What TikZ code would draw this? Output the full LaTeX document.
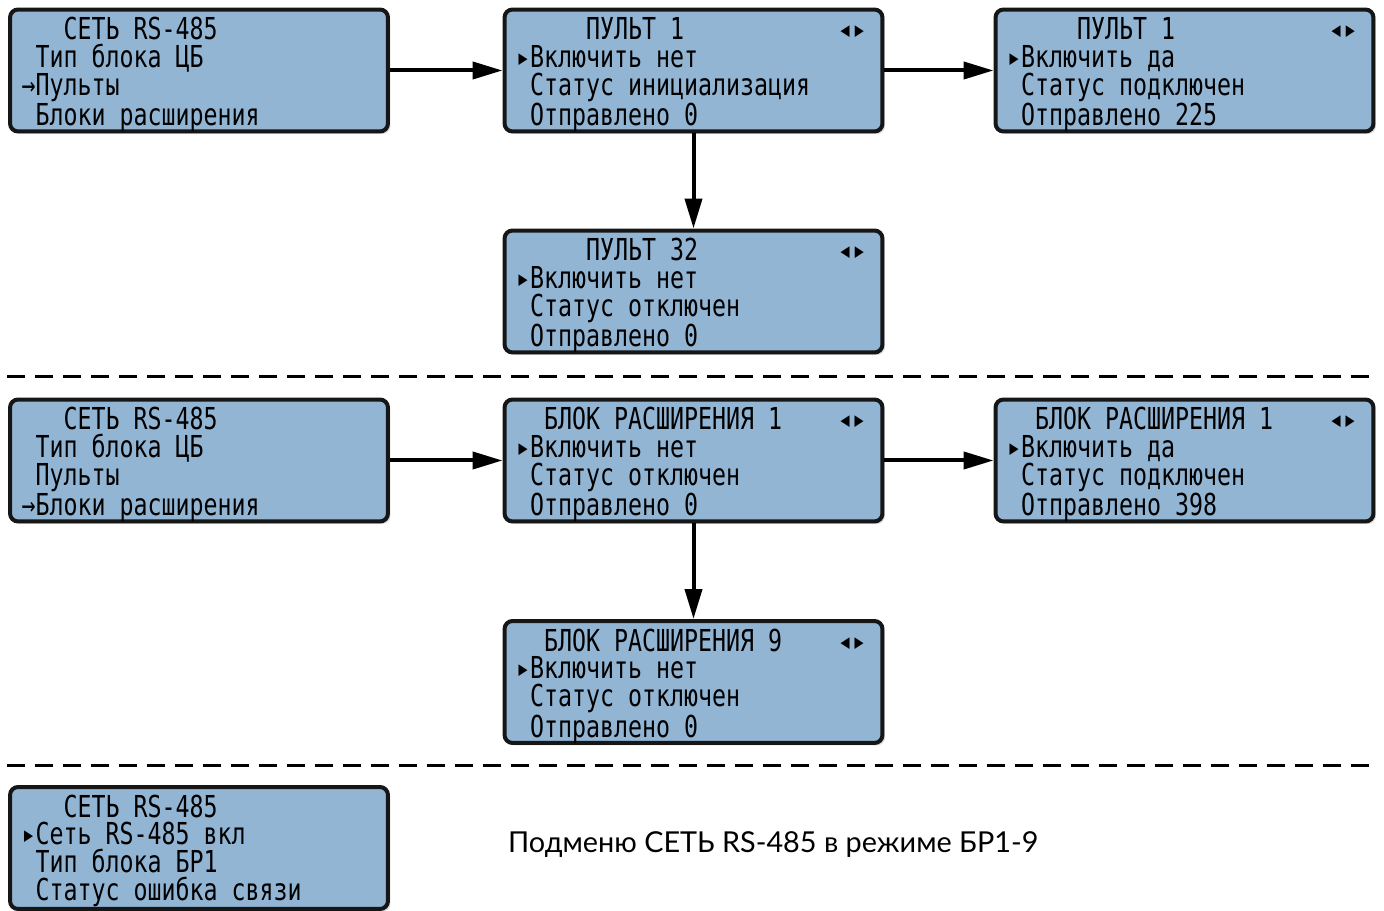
\documentclass[tikz,border=0pt]{standalone}
\usepackage{fontspec}
\setmainfont{Lato}
\newfontfamily\lcdfont[FakeStretch=0.77]{DejaVu Sans Mono}
\usetikzlibrary{arrows.meta,shadows}
\definecolor{lcdblue}{RGB}{146,181,212}
\definecolor{lcdframe}{RGB}{22,22,22}
% one LCD cell = one glyph of the mono font
\newlength{\lcdcell}
\newcommand{\lcdcells}{\lcdfont\fontsize{17.2}{15.93}\selectfont\settowidth{\lcdcell}{0}}
\newcommand{\lgap}[1]{\hspace*{#1\lcdcell}}

\begin{document}
\begin{tikzpicture}[x=0.02cm,y=-0.02cm,
    lcd/.style={rectangle,rounded corners=0.16cm,draw=lcdframe,line width=0.08cm,fill=lcdblue,
      minimum width=7.56cm,minimum height=2.44cm,text width=7.1cm,align=left,inner xsep=0.23cm,
      text height=0.44cm,text depth=1.68cm,font=\lcdcells,
      drop shadow={opacity=0.3,shadow xshift=0.05cm,shadow yshift=-0.05cm}},
    link/.style={-{Triangle[length=0.6cm,width=0.34cm]},line width=0.08cm},
    sep/.style={line width=0.06cm,dash pattern=on 0.36cm off 0.2cm}]
  \useasboundingbox (0,0) rectangle (1384,911);
  % RS-485 / remote panels
  \node[lcd] (net1) at (199,70.5) {\lgap{3}СЕТЬ\lgap{1}RS-485\\\lgap{1}Тип\lgap{1}блока\lgap{1}ЦБ\\→Пульты\\\lgap{1}Блоки\lgap{1}расширения};
  \node[lcd] (pult1) at (693.5,70.5) {\lgap{5}ПУЛЬТ\lgap{1}1\lgap{11}◂▸\\▸Включить\lgap{1}нет\\\lgap{1}Статус\lgap{1}инициализация\\\lgap{1}Отправлено\lgap{1}0};
  \node[lcd] (pult1on) at (1184.5,70.5) {\lgap{5}ПУЛЬТ\lgap{1}1\lgap{11}◂▸\\▸Включить\lgap{1}да\\\lgap{1}Статус\lgap{1}подключен\\\lgap{1}Отправлено\lgap{1}225};
  \node[lcd] (pult32) at (693.5,291.5) {\lgap{5}ПУЛЬТ\lgap{1}32\lgap{10}◂▸\\▸Включить\lgap{1}нет\\\lgap{1}Статус\lgap{1}отключен\\\lgap{1}Отправлено\lgap{1}0};
  \draw[link] (net1) -- (pult1);
  \draw[link] (pult1) -- (pult1on);
  \draw[link] (pult1) -- (pult32);
  % separator
  \coordinate (sepA1) at (7,377);
  \coordinate (sepA2) at (1377,377);
  \draw[sep] (sepA1) -- (sepA2);
  % RS-485 / expansion blocks
  \node[lcd] (net2) at (199,460.5) {\lgap{3}СЕТЬ\lgap{1}RS-485\\\lgap{1}Тип\lgap{1}блока\lgap{1}ЦБ\\\lgap{1}Пульты\\→Блоки\lgap{1}расширения};
  \node[lcd] (br1) at (693.5,460.5) {\lgap{2}БЛОК\lgap{1}РАСШИРЕНИЯ\lgap{1}1\lgap{4}◂▸\\▸Включить\lgap{1}нет\\\lgap{1}Статус\lgap{1}отключен\\\lgap{1}Отправлено\lgap{1}0};
  \node[lcd] (br1on) at (1184.5,460.5) {\lgap{2}БЛОК\lgap{1}РАСШИРЕНИЯ\lgap{1}1\lgap{4}◂▸\\▸Включить\lgap{1}да\\\lgap{1}Статус\lgap{1}подключен\\\lgap{1}Отправлено\lgap{1}398};
  \node[lcd] (br9) at (693.5,682) {\lgap{2}БЛОК\lgap{1}РАСШИРЕНИЯ\lgap{1}9\lgap{4}◂▸\\▸Включить\lgap{1}нет\\\lgap{1}Статус\lgap{1}отключен\\\lgap{1}Отправлено\lgap{1}0};
  \draw[link] (net2) -- (br1);
  \draw[link] (br1) -- (br1on);
  \draw[link] (br1) -- (br9);
  % separator
  \coordinate (sepB1) at (7,766);
  \coordinate (sepB2) at (1377,766);
  \draw[sep] (sepB1) -- (sepB2);
  % BR1-9 mode
  \node[lcd] (net3) at (199,848) {\lgap{3}СЕТЬ\lgap{1}RS-485\\▸Сеть\lgap{1}RS-485\lgap{1}вкл\\\lgap{1}Тип\lgap{1}блока\lgap{1}БР1\\\lgap{1}Статус\lgap{1}ошибка\lgap{1}связи};
  \node[anchor=base west,font=\fontsize{16.4}{19}\selectfont] (note) at (502,853) {Подменю СЕТЬ RS-485 в режиме БР1-9};
\end{tikzpicture}
\end{document}
